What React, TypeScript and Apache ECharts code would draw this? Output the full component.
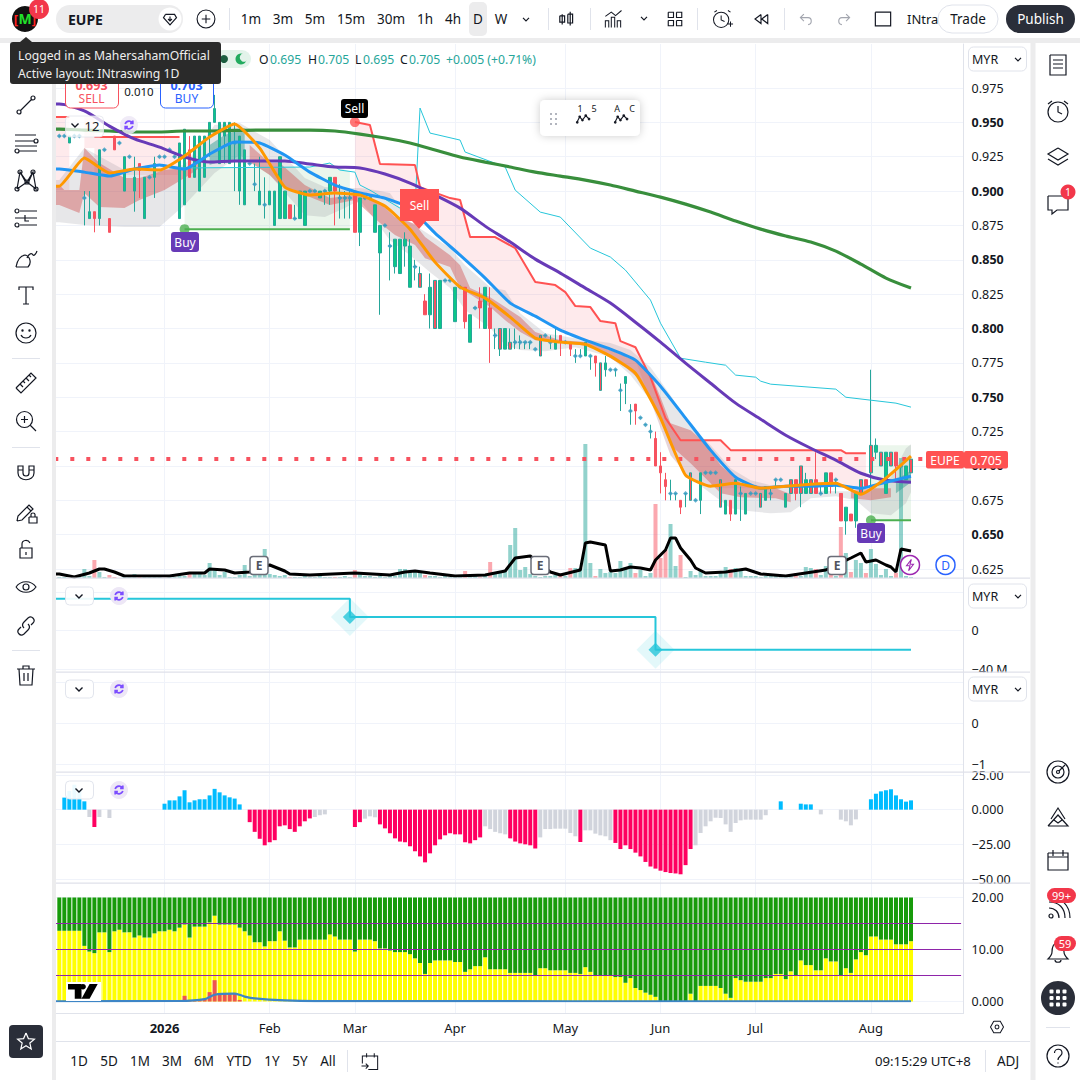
import React, { useEffect, useRef } from "react";
import * as echarts from "echarts";

// ---------- categories (slot 0 lies just off the pane's left edge, bar i sits in slot i + 1) ----------
const BAR_SLOTS = 182;
const monthTicks: Record<number, string> = { 21: "2026", 42: "Feb", 59: "Mar", 79: "Apr", 101: "May", 120: "Jun", 139: "Jul", 162: "Aug" };
const categories: string[] = Array.from({ length: BAR_SLOTS }, (_, i) => monthTicks[i - 1] ?? "");

// ---------- candles ----------
const opens = [.94,.94,.935,.94,.94,.895,.88,.885,.88,.93,.88,.94,.935,.9,.925,.9,.92,.88,.91,.91,.925,.925,.93,.925,.88,.89,.93,.91,.9,.91,.94,.95,.92,.94,.92,.935,.9,.89,.92,.905,.89,.89,.89,.875,.88,.88,.89,.88,.88,.875,.9,.9,.895,.9,.9,.91,.895,.895,.895,.9,.87,.895,.895,.87,.855,.875,.86,.845,.84,.86,.83,.845,.83,.82,.81,.8,.8,.835,.835,.805,.83,.83,.79,.815,.82,.8,.815,.795,.785,.785,.785,.79,.79,.79,.79,.785,.78,.795,.79,.785,.795,.79,.79,.78,.78,.78,.78,.78,.755,.77,.77,.77,.755,.76,.74,.745,.735,.73,.725,.72,.7,.69,.68,.68,.675,.68,.675,.675,.675,.695,.695,.695,.67,.665,.675,.665,.68,.665,.68,.68,.67,.675,.68,.69,.69,.67,.68,.69,.68,.68,.68,.69,.68,.68,.695,.69,.68,.66,.665,.66,.68,.69,.695,.71,.7,.68,.7,.71,.7,.69,.695];
const closes = [.94,.94,.94,.94,.94,.895,.885,.88,.93,.93,.87,.93,.935,.925,.925,.91,.915,.91,.91,.92,.925,.925,.93,.925,.935,.945,.91,.94,.94,.94,.95,.96,.95,.95,.95,.935,.94,.93,.92,.905,.9,.89,.9,.9,.925,.9,.88,.88,.9,.9,.9,.9,.9,.9,.91,.9,.895,.895,.895,.87,.895,.895,.895,.89,.875,.875,.86,.865,.865,.865,.86,.845,.84,.81,.83,.835,.835,.835,.835,.83,.83,.805,.81,.815,.815,.83,.8,.795,.8,.8,.79,.79,.79,.79,.79,.785,.795,.795,.79,.79,.79,.79,.785,.78,.78,.79,.78,.775,.775,.775,.77,.77,.755,.765,.74,.74,.735,.73,.725,.7,.695,.685,.68,.68,.67,.68,.695,.675,.695,.695,.695,.695,.69,.675,.665,.69,.68,.68,.68,.68,.68,.685,.68,.69,.69,.68,.69,.68,.7,.69,.69,.68,.68,.695,.685,.69,.66,.67,.66,.68,.69,.685,.715,.715,.71,.71,.71,.7,.7,.7,.705];
const highs = [.94,.94,.94,.94,.94,.9,.9,.885,.93,.93,.88,.94,.935,.925,.925,.925,.92,.91,.91,.925,.925,.925,.93,.925,.935,.945,.94,.94,.94,.94,.95,.97,.95,.95,.95,.95,.94,.93,.92,.92,.925,.91,.9,.9,.925,.9,.89,.89,.9,.9,.9,.9,.9,.9,.91,.91,.905,.9,.9,.9,.895,.895,.895,.89,.875,.875,.87,.865,.865,.87,.865,.85,.845,.825,.84,.835,.835,.835,.835,.83,.83,.83,.81,.815,.83,.83,.83,.8,.8,.8,.8,.8,.795,.79,.79,.785,.795,.795,.795,.8,.795,.79,.79,.785,.785,.79,.78,.78,.775,.78,.77,.77,.76,.765,.745,.745,.735,.73,.73,.725,.71,.695,.69,.68,.675,.68,.695,.675,.695,.695,.695,.695,.69,.675,.675,.69,.685,.68,.68,.68,.68,.685,.685,.69,.69,.68,.69,.69,.7,.695,.69,.71,.685,.695,.695,.69,.68,.67,.665,.68,.69,.69,.77,.72,.71,.71,.71,.71,.7,.7,.705];
const lows = [.94,.94,.935,.94,.94,.875,.88,.87,.875,.93,.87,.93,.935,.9,.925,.885,.895,.88,.91,.895,.925,.925,.93,.925,.88,.89,.91,.91,.9,.91,.925,.95,.92,.92,.92,.9,.89,.89,.92,.9,.89,.88,.89,.875,.88,.88,.88,.88,.88,.875,.9,.9,.895,.89,.89,.875,.88,.88,.88,.87,.86,.895,.895,.87,.81,.875,.835,.84,.84,.845,.83,.835,.83,.81,.8,.8,.8,.835,.835,.805,.83,.8,.79,.815,.8,.8,.775,.785,.78,.785,.785,.785,.785,.785,.785,.785,.78,.795,.785,.785,.78,.79,.78,.775,.78,.78,.77,.765,.755,.765,.77,.765,.74,.745,.73,.73,.735,.73,.72,.7,.68,.675,.675,.675,.665,.67,.675,.675,.665,.695,.695,.695,.67,.665,.66,.665,.66,.665,.68,.68,.67,.675,.675,.685,.69,.67,.68,.675,.67,.68,.68,.68,.68,.68,.68,.68,.66,.65,.66,.655,.68,.685,.685,.705,.7,.68,.7,.69,.69,.69,.695];
// Red bodies with a teal outline
const tealOutlined = [72,75,88,90,96,108,126,132,140,146,148,150,160,162,164,166,170];

const volumes = [1,1,0,1,1,9,2,18,6,1,3,1,0,1,1,4,1,1,1,1,1,0,1,1,2,2,5,6,5,3,15,10,3,6,1,1,3,13,2,3,3,29,4,3,2,3,1,1,1,2,1,1,2,1,1,1,1,2,1,8,4,2,2,1,2,1,2,2,9,9,6,6,6,3,2,2,1,2,1,1,2,7,3,2,1,3,16,5,5,8,33,50,8,11,4,2,1,2,2,3,5,2,10,10,10,134,15,2,9,5,6,5,17,11,15,5,8,2,5,74,20,28,54,12,23,1,7,3,8,2,2,2,6,11,9,10,7,2,2,2,1,2,3,2,1,2,3,5,2,11,10,9,3,12,3,2,51,25,6,18,15,5,29,14,3,9,2,5,120,2,1];
const volAvgIdx = [0,3,6,8,9,11,13,19,22,26,29,30,33,35,38,42,44,45,46,50,59,66,69,71,74,79,85,87,89,91,94,98,100,104,105,106,109,110,112,114,116,118,119,121,122,123,124,126,127,129,133,137,140,145,149,153,158,160,161,163,165,166,167,168,170];
const volAvgVal = [4,1,5,9,9,6,2,2,2,5,5,9,8,5,6,13,9,7,4,3,5,3,6,7,5,2,3,5,7,20,22,6,3,8,35,36,33,7,8,11,10,8,18,28,40,40,30,18,10,5,6,9,4,2,5,8,20,25,16,18,13,11,6,29,27];

// ---------- moving averages ----------
const sampleIdx = [0,5,10,15,20,25,30,35,40,45,50,55,60,65,70,75,80,85,90,95,100,105,110,115,120,125,130,135,140,145,150,155,160,165,170];
const orangeMA = [.9036,.924,.9131,.916,.9153,.9255,.9393,.9488,.9313,.9029,.8971,.8986,.8971,.8891,.8723,.8483,.8301,.8221,.8083,.793,.7901,.7886,.7799,.7675,.7348,.6933,.6853,.6874,.6838,.6853,.6867,.6874,.6794,.6911,.7071];
const blueMA = [.916,.9138,.9109,.916,.9189,.916,.9269,.9357,.935,.9262,.9138,.9044,.8986,.8949,.8876,.8694,.8534,.8367,.8185,.809,.7988,.7915,.785,.777,.758,.7348,.7115,.6918,.6838,.6853,.6853,.686,.6838,.6882,.6925];
const purpleMA = [.9633,.9583,.9473,.9379,.932,.9248,.9211,.9219,.9219,.9219,.9197,.9175,.9168,.9124,.9058,.8971,.8876,.8745,.8629,.8505,.8403,.8294,.8185,.8046,.7901,.7748,.7602,.7457,.734,.7224,.7129,.7042,.6947,.6896,.6882];
const greenMA = [.9451,.9444,.9437,.943,.943,.9437,.9437,.9441,.9444,.9444,.9444,.9437,.9415,.9386,.935,.9299,.9248,.9211,.9175,.9138,.9109,.908,.9044,.9,.8956,.8905,.8847,.8782,.8723,.8673,.8629,.8563,.8469,.8367,.8294];
const cyanIdx = [24,50,54,56,59,60,62,68,71,72,74,80,81,89,91,96,100,106,110,113,118,120,124,129,133,135,139,140,142,155,157,167,170];
const cyanVal = [.9168,.9175,.9204,.9153,.9138,.9044,.9007,.8876,.8884,.9604,.9422,.9371,.9284,.9175,.9007,.8847,.8811,.8585,.852,.8425,.8207,.8039,.7784,.7755,.7733,.7661,.7646,.7617,.7595,.7559,.75,.7457,.7428];

// ---------- stops and fills ----------
const stopAIdx = [0,2]; const stopAVal = [.9539,.9539];
const stopBIdx = [7,24]; const stopBVal = [.9393,.9393];
const stopCIdx = [59,62,64,71,72,78,80,82,87,91,95,99,101,103,106,108,111,112,115,118,121,124,132,134,156,157,161];
const stopCVal = [.9502,.9481,.9197,.9189,.9029,.8949,.8935,.8665,.8665,.8585,.8338,.8316,.8265,.8163,.8156,.8054,.8039,.7908,.7864,.7646,.7348,.7187,.7187,.7115,.7115,.7093,.7093];
const pinkLowIdx = [59,65,70,75,80,85,90,95,100,105,110,115,118,122,126,132,140,150,161];
const pinkLowVal = [.9007,.8949,.8876,.8694,.8534,.8367,.8185,.809,.7988,.7915,.785,.777,.7479,.7078,.6896,.6838,.6838,.6853,.6853];
const buyLineAIdx = [25,58]; const buyLineAVal = [.8723,.8723];
const buyLineBIdx = [162,170]; const buyLineBVal = [.6605,.6605];
const greenTopIdx = [25,50,54,58]; const greenTopVal = [.9168,.9175,.9204,.9138];
const darkAIdx = [0,1,4,5,8,13,16,21,25,28];
const darkATop = [.9044,.9007,.9007,.9313,.9204,.9095,.9095,.9153,.9168,.9211];
const darkABot = [.8898,.8884,.884,.8986,.8884,.8876,.8935,.9007,.9095,.9168];
const darkBIdx = [38,42,44,49,54,59,64,67,71,73,78,80,82,86,89,92,95,100,106,113,116,118,120,122,126,129,132,136,143,146];
const darkBTop = [.9335,.9204,.9204,.9044,.8949,.8971,.8913,.8811,.876,.8665,.8534,.8461,.8294,.8228,.8156,.8083,.7974,.7915,.7901,.7799,.7748,.7675,.75,.7311,.726,.7166,.7005,.6874,.6838,.6794];
const darkBBot = [.9211,.9117,.9044,.8971,.8898,.8935,.8767,.868,.8607,.8512,.8447,.8294,.825,.8156,.8061,.7974,.7915,.7894,.7872,.7719,.7624,.75,.7355,.7151,.702,.6911,.6802,.6772,.6765,.6736];
const darkCIdx = [158,162,166]; const darkCTop = [.6823,.6838,.6838]; const darkCBot = [.6765,.6751,.6772];
const greyIdx = [0,5,13,20,25,31,36,42,49,53,57,60,63,66,70,74,78,81,86,89,92,97,103,110,114,118,122,126,130,134,138,142,146,150,155,159,162,166,169,170];
const greyTop = [.908,.9313,.9153,.9168,.9189,.9481,.9495,.9371,.9095,.9029,.9022,.9022,.9007,.8986,.8774,.868,.8585,.8461,.8301,.8279,.8112,.7966,.793,.7894,.7843,.7719,.7515,.7282,.7151,.6984,.6896,.686,.686,.6823,.6816,.6816,.6816,.6918,.7129,.7158];
const greyBot = [.8774,.8753,.8738,.8738,.8898,.9131,.9262,.9117,.8825,.8811,.8876,.8935,.8789,.8643,.8534,.841,.8294,.8134,.8003,.7879,.7843,.7835,.7864,.7792,.7661,.7479,.7078,.6911,.6802,.6692,.667,.6656,.6663,.6765,.678,.6751,.6656,.6642,.6729,.6809];
const tealAIdx = [30,33,37]; const tealATop = [.9335,.9408,.9459]; const tealABot = [.9189,.9226,.9226];
const tealBIdx = [167,170]; const tealBTop = [.6896,.6969]; const tealBBot = [.6802,.6882];
const lastPrice = 0.705;
const buySignalIdx = [25,162]; const buySignalVal = [.8723,.6605];
const sellSignalIdx = [59]; const sellSignalVal = [.9502];

// ---------- second pane ----------
const stepIdx = [0,58,119,170]; const stepVal = [33,14,-20,-20];
const stepMarkIdx = [58,119]; const stepMarkVal = [14,-20];

// ---------- histogram pane ----------
const histogram = [0,8.7,13.5,18,14,6,-5.3,-12.5,-5.3,0,-6,0,0,0,0,0,0,0,0,0,0,4.3,6.7,6.7,9.6,14,5.3,6.7,7.5,7.5,10.3,15,12.5,10.3,8.9,8,3.8,0,-9,-16,-21,-25.7,-23.5,-22,-12,-11.3,-14,-16,-12,-8.4,-6.3,-5.3,-4,-3.4,0,0,0,0,0,-12.5,-9,-6.5,-4.8,-5.5,-10.6,-13.5,-17,-20.7,-23,-23.5,-26.4,-30,-33.7,-38,-31.5,-25.7,-21.4,-18.5,-17,-17.8,-17.8,-23.5,-24.3,-22,-20,-12,-14,-16,-17,-17.8,-20.7,-23,-24.3,-25,-25.7,-28,-20,-14,-14,-13.7,-13.7,-13.7,-16.8,-19.2,-23.3,-14.9,-14.9,-17.3,-18.5,-19.2,-22,-24,-28.4,-25.7,-28.4,-31,-33.7,-37.7,-41,-42.5,-44,-45,-45.7,-46,-46.6,-40,-28.4,-25.7,-16.8,-12,-8.4,-5.8,-6,-10.6,-16,-9.6,-7.7,-7.2,-7.2,-7.2,-7.2,-4,0,0,6,0,0,0,4.3,3.8,3.8,0,-3.4,0,0,0,-7.2,-8.4,-11.3,-7,0,0,7.5,11.5,13.2,14,14.7,10.3,7.5,5.8,6.7];
const histGreyIdx = [6,8,10,51,52,53,61,62,63,85,86,87,88,89,96,97,98,99,100,101,102,103,105,106,107,108,109,110,127,128,129,130,131,132,133,134,135,136,137,138,139,140,141,152,156,157,158,159];

// ---------- stacked pane ----------
const stackTop = 20;
const yellowBars = [13.6,13.6,13.6,13.6,13.6,10.7,9.6,9.3,13.3,13.3,9.5,13.5,13.8,13.3,13.3,12.3,12.7,12.3,12.3,13.1,13.5,13.5,13.8,13.5,14.2,14.8,12.3,14.4,14.4,14.4,15.2,16.5,14.8,14.8,14.8,14.8,14.2,13.5,12.7,11.4,11.4,10.6,11.6,11.6,13.5,11.7,10.4,10.4,11.9,11.9,11.9,11.9,11.9,11.9,12.9,12.5,11.9,11.9,11.9,9.6,11.9,11.9,11.9,11.6,10.2,10.2,9.8,9.5,9.5,9.5,9.1,8.3,7.4,5.3,7.4,7.9,7.9,7.9,7.9,7.6,7.6,5.7,6.2,6.8,6.8,8.5,6.2,6.2,6.2,6.2,5.5,5.5,5.5,5.5,5.5,5.1,6.4,6.4,6,6,6,6,5.5,5.5,5.3,6.6,5.7,5.1,5.1,5.1,5.1,4.7,4.7,3.6,4.5,2.6,2.2,1.7,1.3,.9,0,0,0,0,0,0,1.5,0,3,3,3,3,2.6,1.5,.7,4.5,4.1,3.8,3.8,3.8,3.8,4.5,4.5,5.3,5.3,4.3,5.8,4.9,7.9,7,7,6,6,8.3,7.7,7.7,5.1,6.4,5.5,8.1,9.5,8.9,12.5,12.5,11.9,11.9,11.9,11,11,11,11.6];
const redBarIdx = [25,26,27,28,29,30,31,32,33,34,35,36];
const redBarVal = [1.1,.3,.3,.3,.5,1.8,4.1,1.65,1.65,1.65,1.65,.3];
const pane5LineIdx = [0,24,29,31,35,37,39,45,51,170];
const pane5LineVal = [.05,.1,.45,1.3,1.5,.95,.6,.2,.06,.05];
const purpleLevels = [5,10,15];

// ---------- chart texts ----------
const intervals: [string, number][] = [["1m",251],["3m",283],["5m",315],["15m",351],["30m",391],["1h",425],["4h",453],["D",478],["W",501]];
const ranges: [string, number][] = [["1D",79],["5D",109],["1M",140],["3M",172],["6M",204],["YTD",239],["1Y",272],["5Y",300],["All",328]];

// ---------- drawing helpers ----------
const F = '"Noto Sans"';
const INK = "#131722";
const UP = "#0bc887", TEAL = "#26a69a", RED = "#f7525f", GRID = "#f0f3fa", SEP = "#e0e3eb";
// Bar i goes to slot i + 1; a series that starts at bar 0 also runs on into the off-edge slot 0.
const pairs = (idx: number[], vals: number[]) => {
  const p = idx.map((x, k) => [x + 1, vals[k]]);
  if (idx[0] === 0) p.unshift([0, vals[0]]);
  return p;
};
const ring = (x: number, y: number, r: number) => `M${x + r} ${y}a${r} ${r} 0 1 1 ${-2 * r} 0a${r} ${r} 0 1 1 ${2 * r} 0`;

const ICONS: Record<string, string> = {
  line: `M6.5 17.5L17.5 6.5${ring(5, 19, 2)}${ring(19, 5, 2)}`,
  fib: `M1 4H22M1 10H20M1 15H23M5 20H23${ring(22, 10, 2)}${ring(3, 20, 2)}`,
  pat: `M3 21L6 4L13 14L19 4L22 21L13 14L3 21M6 4L11 13M19 4L15 13${ring(3, 21, 2)}${ring(6, 4, 2)}${ring(13, 14, 2)}${ring(19, 4, 2)}${ring(22, 21, 2)}`,
  fc: `M6 5H23M1 12H23M6 19H23M11 9V15H15${ring(3, 5, 2)}${ring(3, 19, 2)}`,
  brush: `M2 21H14C18 17 16 10 11 9C6 10 3 15 2 21M13 12C15 7 18 7 19 9C20 10 22 8 23 5`,
  T: `M5 7V4H19V7M12 4V21M9 21H15`,
  smile: `${ring(12, 12, 10)}${ring(8.5, 9.5, .6)}${ring(15.5, 9.5, .6)}M7 14C9 18 15 18 17 14`,
  ruler: `M2 17L17 2L22 7L7 22L2 17M6 13L9 16M9 10L11 12M12 7L15 10M15 4L17 6`,
  zoom: `${ring(10.5, 10.5, 8)}M16.5 16.5L22 22M10.5 7V14M7 10.5H14`,
  magnet: `M4 12V5H9V12C9 16 15 16 15 12V5H20V12C20 21 4 21 4 12M4 9H9M15 9H20`,
  pencil: `M3 21L4 16L15 5L19 9L8 20L3 21M13 7L17 11M15 17H23V23H15V17M17 17V14.5C17 12.5 21 12.5 21 14.5V17`,
  lock: `M6 11H18V21H6V11M8 11V7C8 3 14 2 16 6M12 15V18`,
  eye: `M2 12C7 5 17 5 22 12C17 19 7 19 2 12${ring(12, 12, 3)}`,
  link: `M10 14C8 12 8 10 10 8L14 4C18 1 22 6 19 9L17 11M14 10C16 12 16 14 14 16L10 20C6 23 2 18 5 15L7 13`,
  trash: `M3 6H21M9 6V3H15V6M5 6L6 22H18L19 6M10 10V18M14 10V18`,
  star: `M12 2L15 9L22.5 9.7L16.8 14.6L18.5 22L12 18L5.5 22L7.2 14.6L1.5 9.7L9 9L12 2`,
  plus: `${ring(12, 12, 10.5)}M12 7V17M7 12H17`,
  gem: `M5 5H19L22 10L12 21L2 10L5 5M12 8V14M9 12L12 15L15 12`,
  candle: `M6 6V19M3 8H9V16H3V8M16 3V20M13 6H19V17H13V6`,
  ind: `M3 22V14H7V22M10 22V10H14V22M17 22V14H21V22M3 9L10 4L15 8L22 2`,
  grid4: `M3 3H10V10H3V3M14 3H21V10H14V3M3 14H10V21H3V14M14 14H21V21H14V14`,
  alert: `${ring(11, 13, 9)}M11 8V13L15 15M3 4L6 2M19 2L22 4M19 18H25M22 15V21`,
  replay: `M12 6L4 12L12 18V6M21 6L13 12L21 18V6`,
  undo: `M9 5L4 10L9 15M4 10H15C21 10 21 20 15 20`,
  redo: `M15 5L20 10L15 15M20 10H9C3 10 3 20 9 20`,
  rect: `M3 4H21V20H3V4`,
  note: `M4 2H20V22H4V2M7 7H17M7 11H17M7 15H17`,
  clock: `${ring(12, 13, 10)}M12 7V13L16 15M2 5L6 2M18 2L22 5`,
  layers: `M12 3L22 9L12 15L2 9L12 3M2 14L12 20L22 14`,
  chat: `M2 4H22V18H11L6 22V18H2V4`,
  radar: `${ring(12, 12, 11)}${ring(12, 12, 6)}${ring(12, 12, 1.5)}M13 11L19 5`,
  mount: `M2 21L12 10L22 21H2M5 14L12 3L19 14M8 15L12 18L16 15`,
  cal: `M2 5H22V22H2V5M7 2V8M17 2V8M2 9H22`,
  feed: `${ring(5, 20, 2)}M3 12C9 12 13 16 13 22M3 6C13 6 19 12 19 22M3 1C15 1 24 9 24 22`,
  bell: `M12 3C7 3 6 8 6 12C6 15 4 17 2 19H22C20 17 18 15 18 12C18 8 17 3 12 3M9 20C9 23 15 23 15 20`,
  help: `${ring(12, 12, 11)}M8.5 9C8.5 4 16 4 16 9C16 12 12 12 12 16M12 18.5V19.5`,
  hex: `M7 3H17L22 12L17 21H7L2 12L7 3${ring(12, 12, 3)}`,
  calarrow: `M5 6H21V22H10M3 15V6H21M8 3V8M17 3V8M2 18H10M7 15L10 18L7 21`,
  chev: `M7 10L12 15L17 10`,
  sync: `M5 10C7 4 16 3 19 9M19 4V9H14M19 14C17 20 8 21 5 15M5 20V15H10`,
  wave: `M1 18L6 8L11 14L17 6L23 12${ring(1.5, 18, 1.5)}${ring(6, 8, 1.5)}${ring(11, 14, 1.5)}${ring(17, 6, 1.5)}${ring(23, 12, 1.5)}`,
  bolt: `M14 4L7 13H12L10 20L17 11H12L14 4`,
  tv: `M0 0H10V11H5V4H0V0M11 0C14 0 14 4 11 4C9 4 9 0 11 0M16 0H22L16 11H10L16 0`,
};
Object.entries(ICONS).forEach(([n, d]) => {
  echarts.graphic.registerShape("ic_" + n, echarts.graphic.extendPath(d, {}));
});

const Z = 100;
const icon = (n: string, cx: number, cy: number, o: any = {}) => {
  const s = o.s ?? 1;
  return { type: "ic_" + n, x: cx - 12 * s, y: cy - 12 * s, scaleX: s, scaleY: s, z: o.z ?? Z, silent: true,
    style: { fill: o.fill ?? "none", stroke: o.stroke ?? INK, lineWidth: o.lw ?? 1.2 } };
};
const txt = (text: string, x: number, y: number, o: any = {}) => ({ type: "text", x, y, z: o.z ?? Z, silent: true,
  style: { text, fill: o.fill ?? INK, font: `${o.w ?? "normal"} ${o.size ?? 13.5}px ${F}`, textAlign: o.align ?? "center", textVerticalAlign: "middle" } });
const box = (x: number, y: number, w: number, h: number, o: any = {}) => ({ type: "rect", z: o.z ?? Z, silent: true,
  shape: { x, y, width: w, height: h, r: o.r ?? 0 },
  style: { fill: o.fill ?? "#fff", stroke: o.stroke, lineWidth: o.lw ?? 1, opacity: o.op ?? 1, shadowBlur: o.blur ?? 0, shadowColor: "rgba(0,0,0,.2)" } });
const dot = (cx: number, cy: number, r: number, o: any = {}) => ({ type: "circle", z: o.z ?? Z, silent: true,
  shape: { cx, cy, r }, style: { fill: o.fill ?? "#fff", stroke: o.stroke, lineWidth: o.lw ?? 1, opacity: o.op ?? 1 } });

const myrButton = (y: number) => [
  box(968.5, y, 58, 24, { r: 5, stroke: SEP }),
  txt("MYR", 972, y + 12, { align: "left", size: 12.5 }),
  icon("chev", 1018, y + 12, { s: .6, lw: 2 }),
];
const paneToggle = (y: number) => [
  box(65.5, y - 9, 28, 18, { r: 4, stroke: SEP, op: .92 }),
  icon("chev", 79, y, { s: .7, lw: 2 }),
  dot(119, y, 9, { fill: "#ede7f6" }),
  icon("sync", 119, y, { s: .55, stroke: "#7c4dff", lw: 3 }),
];
const eBadge = (x: number) => [
  box(x - 9, 556.5, 18, 18, { r: 3, stroke: "#6a6d78", lw: 1.5 }),
  txt("E", x, 565.5, { size: 12, w: "bold", fill: "#50535e" }),
];
const leftIcons: [string, number][] = [["line",105],["fib",143],["pat",180],["fc",218],["brush",258],["T",295],["smile",333],["ruler",383],["zoom",421],["magnet",473],["pencil",512],["lock",549],["eye",587],["link",626],["trash",675]];
const rightIcons: [string, number][] = [["note",65],["clock",111],["layers",157],["chat",204],["radar",772],["mount",817],["cal",860],["feed",908],["bell",952]];

function buildGraphics() {
  const g: any[] = [];
  // chrome bands
  g.push(box(0, 38, 1080, 5, { fill: "#ececed" }));
  g.push(box(0, 43, 56, 1037, { fill: "#fff" }));
  g.push(box(52, 38, 4, 1042, { fill: "#ececed" }));
  g.push(box(1030.5, 38, 5, 1042, { fill: "#ececed" }));
  g.push(box(966, 672.5, 62, 4));
  [578, 672, 772, 883].forEach((y) => g.push(box(56, y - .5, 974, 1.2, { fill: "#dfe1ea" })));
  g.push(box(56, 1041, 974, 1, { fill: SEP }));
  g.push(box(985, 1050, 1, 22, { fill: SEP }));
  g.push(box(347, 1050, 1, 22, { fill: SEP }));
  [358, 447, 650].forEach((y) => g.push(box(12, y, 28, 1, { fill: SEP })));
  g.push(box(1046, 1027, 24, 1, { fill: SEP }));
  g.push(box(229, 8, 1, 22, { fill: SEP }), box(548, 8, 1, 22, { fill: SEP }), box(590, 8, 1, 22, { fill: SEP }), box(697, 8, 1, 22, { fill: SEP }), box(784, 8, 1, 22, { fill: SEP }));

  // top bar
  g.push(dot(25, 19, 13, { fill: "#111" }));
  g.push(txt("[", 16, 19, { fill: "#f22", w: "bold", size: 13 }), txt("]", 34, 19, { fill: "#f22", w: "bold", size: 13 }));
  g.push(txt("M", 25, 18, { fill: "#22e02a", w: "bold", size: 14 }));
  g.push(dot(39, 9, 10, { fill: "#f2374a" }), txt("11", 39, 9, { fill: "#fff", size: 10.5 }));
  g.push(box(56, 5, 127, 28, { r: 14, fill: "#ececed" }));
  g.push(txt("EUPE", 68, 19, { align: "left", w: "bold", size: 14 }));
  g.push(dot(170, 19, 11.5, { fill: "#fff" }), icon("gem", 170, 19, { s: .65, lw: 1.8 }));
  g.push(icon("plus", 206, 19, { s: .85, lw: 1.3 }));
  g.push(box(469, 2, 18, 34, { r: 5, fill: "#ececed" }));
  intervals.forEach(([t, x]) => g.push(txt(t, x, 19, { size: 13.5 })));
  g.push(icon("chev", 526, 19, { s: .6, lw: 2 }));
  g.push(icon("candle", 567, 19, { s: .8, lw: 1.5 }), icon("ind", 613, 19, { s: .85 }), icon("chev", 644, 18, { s: .6, lw: 2 }), icon("grid4", 675, 19, { s: .75, lw: 1.5 }));
  g.push(icon("alert", 722, 19, { s: .85 }), icon("replay", 761, 19, { s: .75, lw: 1.5 }));
  g.push(icon("undo", 806, 19, { s: .7, stroke: "#a3a6af", lw: 1.6 }), icon("redo", 844, 19, { s: .7, stroke: "#a3a6af", lw: 1.6 }), icon("rect", 883, 19, { s: .85, lw: 1.4 }));
  g.push(txt("INtra", 907, 19, { align: "left", size: 13 }));
  g.push(box(938, 5, 60, 28, { r: 14, stroke: SEP }), txt("Trade", 968, 19, { size: 13.5 }));
  g.push(box(1006, 5, 69, 28, { r: 14, fill: "#2a2e39" }), txt("Publish", 1040.5, 19, { fill: "#fff", size: 13.5 }));

  // legend
  g.push(box(214, 50, 37, 18, { r: 9, fill: "#e3f3ea" }), dot(224, 59, 4, { fill: "#1b5e3f" }));
  g.push(dot(241, 59, 5.5, { fill: "#22ab5f" }), dot(244, 57.5, 4.2, { fill: "#e3f3ea" }));
  ([["O",259,"0.695",270],["H",308,"0.705",318],["L",355,"0.695",363],["C",400,"0.705",409]] as [string,number,string,number][]).forEach(([l, x, v, vx]) => {
    g.push(txt(l, x, 59, { align: "left", size: 12.2 }), txt(v, vx, 59, { align: "left", size: 12.2, fill: TEAL }));
  });
  g.push(txt("+0.005 (+0.71%)", 446, 59, { align: "left", size: 12.2, fill: TEAL }));

  // buy/sell boxes
  g.push(box(65.5, 76, 53, 32, { r: 5, stroke: "#f7525f", lw: 1 }), txt("0.693", 91.5, 85, { fill: RED, w: "bold", size: 12.5 }), txt("SELL", 91.5, 98, { fill: RED, size: 12 }));
  g.push(box(160.5, 76, 53, 32, { r: 5, stroke: "#2962ff", lw: 1 }), txt("0.703", 186.5, 85, { fill: "#2962ff", w: "bold", size: 12.5 }), txt("BUY", 186.5, 98, { fill: "#2962ff", size: 12 }));
  g.push(txt("0.010", 139, 91, { size: 11.5 }));
  g.push(box(65.5, 116, 38, 21, { r: 4, stroke: SEP, op: .75 }), icon("chev", 75, 125, { s: .7, lw: 2 }), txt("12", 92, 126, { size: 13 }));
  g.push(dot(129, 125, 9, { fill: "#ede7f6", op: .85 }), icon("sync", 129, 125, { s: .55, stroke: "#7c4dff", lw: 3 }));
  paneToggle(596).forEach((e) => g.push(e));
  paneToggle(689).forEach((e) => g.push(e));
  paneToggle(790).forEach((e) => g.push(e));

  // floating drawing tools
  g.push(box(540, 100, 100, 36, { r: 5, blur: 8 }));
  [113, 118, 123].forEach((y) => [550, 555].forEach((x) => g.push(box(x, y, 2, 2, { fill: "#b2b5be" }))));
  g.push(icon("wave", 583, 119, { s: .55, stroke: INK, lw: 2 }), icon("wave", 621, 119, { s: .55, stroke: INK, lw: 2 }));
  g.push(txt("1", 580, 108, { size: 9 }), txt("5", 594, 108, { size: 9 }), txt("A", 617, 108, { size: 9 }), txt("C", 632, 108, { size: 9 }));

  // signal labels
  g.push(box(341, 99, 27, 19, { r: 3, fill: "#000" }), txt("Sell", 354.5, 108.5, { fill: "#fff", size: 12 }));
  g.push({ type: "polygon", z: Z, silent: true, shape: { points: [[400, 189], [439, 189], [439, 221], [426, 221], [419, 229], [412, 221], [400, 221]] }, style: { fill: "#ff5252" } });
  g.push(txt("Sell", 419.5, 205, { fill: "#fff", size: 12 }));
  g.push(box(171, 232, 28, 20, { r: 3, fill: "#673ab7" }), txt("Buy", 185, 242, { fill: "#fff", size: 12 }));
  g.push(box(857, 523, 28, 20, { r: 3, fill: "#673ab7" }), txt("Buy", 871, 533, { fill: "#fff", size: 12 }));

  // last price tag
  g.push(box(926, 451, 38, 17.5, { r: 2, fill: "#ff5252" }), txt("EUPE", 945, 460, { fill: "#fff", size: 12 }));
  g.push(box(964, 451, 44, 17.5, { r: 2, fill: "#ff5252" }), txt("0.705", 986, 460, { fill: "#fff", size: 12.5 }));

  // markers
  [259, 540, 837].forEach((x) => eBadge(x).forEach((e) => g.push(e)));
  g.push(dot(910, 565, 9.5, { stroke: "#9c27b0", lw: 1.5 }), icon("bolt", 910, 565, { s: .7, stroke: "#9c27b0", lw: 1.5 }));
  g.push(dot(945.5, 565, 9.5, { stroke: "#2962ff", lw: 1.5 }), txt("D", 945.5, 565.5, { fill: "#2962ff", size: 12 }));

  // scale buttons
  [47, 584, 677].forEach((y) => myrButton(y).forEach((e) => g.push(e)));

  // TV logo
  g.push(box(66, 982, 35, 19, { fill: "#fff" }), icon("tv", 83, 991, { s: 1.35, fill: "#000", stroke: "none", lw: 0 }));
  const last = g[g.length - 1];
  last.x = 68; last.y = 984;

  // left toolbar
  leftIcons.forEach(([n, y]) => g.push(icon(n, 26, y)));
  g.push(box(9, 1025, 34, 33, { r: 4, fill: "#2a2e39" }), icon("star", 26, 1041, { s: .8, stroke: "#fff", lw: 1.5 }));

  // right toolbar
  rightIcons.forEach(([n, y]) => g.push(icon(n, 1058, y)));
  g.push(dot(1068, 192, 7.5, { fill: "#f2374a" }), txt("1", 1068, 192, { fill: "#fff", size: 10.5 }));
  g.push(box(1047, 888, 29, 15, { r: 7.5, fill: "#f2374a" }), txt("99+", 1061.5, 895.5, { fill: "#fff", size: 11 }));
  g.push(box(1054, 936, 22, 15, { r: 7.5, fill: "#f2374a" }), txt("59", 1065, 943, { fill: "#fff", size: 11 }));
  g.push(dot(1058, 998, 17, { fill: "#2a2e39" }));
  [-6.5, 0, 6.5].forEach((dy) => [-6.5, 0, 6.5].forEach((dx) => g.push(box(1058 + dx - 2, 998 + dy - 2, 4, 4, { r: 1, fill: "#fff" }))));
  g.push(icon("help", 1058, 1056));

  // bottom bar
  ranges.forEach(([t, x]) => g.push(txt(t, x, 1061, { size: 13.5 })));
  g.push(icon("calarrow", 370, 1061, { s: .85 }));
  g.push(txt("09:15:29 UTC+8", 875, 1061, { align: "left", size: 13.2 }));
  g.push(txt("ADJ", 1008, 1061, { size: 13.5 }));
  g.push(icon("hex", 997, 1027, { s: .65, lw: 1.6 }));

  // tooltip, on top of all
  g.push({ type: "polygon", z: Z + 1, silent: true, shape: { points: [[20, 42], [26, 37], [32, 42]] }, style: { fill: "#2a2a2a" } });
  g.push(box(10, 42, 211, 42, { r: 3, fill: "#2a2a2a", z: Z + 1 }));
  g.push(txt("Logged in as MahersahamOfficial", 18, 55, { align: "left", fill: "#eee", size: 12.2, z: Z + 1 }));
  g.push(txt("Active layout: INtraswing 1D", 18, 73, { align: "left", fill: "#eee", size: 12.2, z: Z + 1 }));
  return g;
}

const band = (upIdx: number[], upVal: number[], loIdx: number[], loVal: number[], fill: string, z = 1) => ({
  type: "custom", xAxisIndex: 1, yAxisIndex: 1, z, silent: true, data: [[upIdx[0] + 1, upVal[0]]],
  renderItem: (_: any, api: any) => ({
    type: "polygon",
    shape: { points: [...pairs(upIdx, upVal).map((p) => api.coord(p)), ...pairs(loIdx, loVal).map((p) => api.coord(p)).reverse()] },
    style: { fill },
  }),
});
const line = (data: number[][], color: string, width: number, o: any = {}) => ({
  type: "line", xAxisIndex: o.ax ?? 1, yAxisIndex: o.ax ?? 1, data, showSymbol: false, symbol: "none", silent: true,
  smooth: o.smooth ?? false, step: o.step ?? false, z: o.z ?? 4, lineStyle: { color, width, type: o.type ?? "solid" },
});

const LEFT = 51.8, WIDTH = 911.8;
const gridAt = (top: number, bottom: number) => ({ left: LEFT, width: WIDTH, top, height: bottom - top });
const hiddenX = (gridIndex: number) => ({ type: "category", gridIndex, data: categories, show: false });
const labelBase = { color: INK, fontFamily: F, fontSize: 12.5, margin: 8, align: "left" as const };
const yAxis = (gridIndex: number, min: number, max: number, interval: number, fmt: (v: number) => string) => ({
  type: "value", gridIndex, position: "right", min, max, interval, scale: false,
  axisLine: { show: false }, axisTick: { show: false },
  splitLine: { show: true, lineStyle: { color: GRID, width: 1 } },
  axisLabel: { ...labelBase, formatter: fmt, showMinLabel: true, showMaxLabel: true },
});
const num = (v: number) => (Math.abs(v) < 1e-9 ? "0.000" : (v < 0 ? "\u2212" : "") + Math.abs(v).toFixed(2));
const priceLabel = (v: number) => {
  if (v < 0.61 || v > 0.99) return "";
  const s = v.toFixed(3);
  return Math.round(v * 1000) % 50 === 0 ? `{b|${s}}` : s;
};

function buildOption() {
  const bars: any[] = opens.map((o, i) => {
    const value = [o, closes[i], lows[i], highs[i]];
    return tealOutlined.includes(i) ? { value, itemStyle: { color: RED, borderColor: TEAL } } : { value };
  });
  const dojiIdx = opens.map((_, i) => i).filter((i) => opens[i] === closes[i]);
  const doji = pairs(dojiIdx.filter((i) => i > 0), dojiIdx.filter((i) => i > 0).map((i) => opens[i]));
  doji.push([1, opens[0]]);
  return {
    animation: false,
    backgroundColor: "#fff",
    textStyle: { fontFamily: F },
    grid: [gridAt(44, 1013), gridAt(53.64, 603.4), gridAt(444, 578), gridAt(592, 669), gridAt(682, 764), gridAt(775, 879), gridAt(897.5, 1001.5)],
    xAxis: [
      { type: "category", gridIndex: 0, data: categories, axisTick: { show: false },
        axisLine: { show: true, lineStyle: { color: SEP } },
        splitLine: { show: true, alignWithLabel: true, interval: (_: number, v: string) => v !== "", lineStyle: { color: GRID } },
        axisLabel: { interval: 0, hideOverlap: false, color: INK, fontFamily: F, fontSize: 13, margin: 8,
          formatter: (v: string) => (v === "2026" ? "{b|2026}" : v), rich: { b: { fontWeight: "bold", fontFamily: F, fontSize: 13, color: INK } } } },
      hiddenX(1), hiddenX(2), hiddenX(3), hiddenX(4), hiddenX(5), hiddenX(6),
    ],
    yAxis: [
      { type: "value", gridIndex: 0, position: "right", min: 0, max: 1, axisLabel: { show: false }, axisTick: { show: false }, splitLine: { show: false }, axisLine: { show: true, lineStyle: { color: SEP } } },
      { ...yAxis(1, 0.6, 1, 0.025, priceLabel),
        splitLine: { show: true, showMinLine: false, showMaxLine: false, lineStyle: { color: GRID } },
        axisLabel: { ...labelBase, formatter: priceLabel, rich: { b: { fontWeight: "bold", fontFamily: F, fontSize: 12.5, color: INK } } } },
      { type: "value", gridIndex: 2, min: 0, max: 134, show: false },
      yAxis(3, -40, 40, 40, (v: number) => (v === 0 ? "0" : v === -40 ? "\u221240 M" : "")),
      yAxis(4, -1, 1, 1, (v: number) => (v === 0 ? "0" : v === -1 ? "\u22121" : "")),
      yAxis(5, -50, 25, 25, num),
      yAxis(6, 0, 20, 10, num),
    ],
    series: [
      // fills in the price pane
      band([0, 2], stopAVal, [0, 2], [.9007, .9007], "rgba(247,82,95,.12)"),
      band([5, 7], [.9539, .9539], [5, 7], [.9313, .9313], "rgba(247,82,95,.12)"),
      band(stopBIdx, stopBVal, stopBIdx, [.9117, .9117], "rgba(247,82,95,.12)"),
      band(stopCIdx, stopCVal, pinkLowIdx, pinkLowVal, "rgba(247,82,95,.12)"),
      band(greenTopIdx, greenTopVal, buyLineAIdx, buyLineAVal, "rgba(76,175,80,.11)"),
      band([162, 170], [.7151, .7151], buyLineBIdx, buyLineBVal, "rgba(76,175,80,.11)"),
      band(greyIdx, greyTop, greyIdx, greyBot, "rgba(120,123,134,.18)"),
      band(darkAIdx, darkATop, darkAIdx, darkABot, "rgba(205,60,60,.38)"),
      band(darkBIdx, darkBTop, darkBIdx, darkBBot, "rgba(205,60,60,.38)"),
      band(darkCIdx, darkCTop, darkCIdx, darkCBot, "rgba(205,60,60,.38)"),
      band(tealAIdx, tealATop, tealAIdx, tealABot, "rgba(0,137,123,.38)"),
      band(tealBIdx, tealBTop, tealBIdx, tealBBot, "rgba(0,137,123,.38)"),
      // volume
      { type: "bar", xAxisIndex: 2, yAxisIndex: 2, z: 2, barWidth: 4, silent: true,
        data: [null, ...volumes.map((v, i) => ({ value: v, itemStyle: { color: closes[i] < opens[i] ? "rgba(247,82,95,.5)" : "rgba(38,166,154,.5)" } }))] },
      // candles
      { type: "candlestick", xAxisIndex: 1, yAxisIndex: 1, z: 3, barWidth: 3, silent: true, data: ["-", ...bars],
        itemStyle: { color: UP, color0: RED, borderColor: TEAL, borderColor0: RED, borderColorDoji: TEAL, borderWidth: 1 } },
      { type: "scatter", xAxisIndex: 1, yAxisIndex: 1, z: 3, symbol: "diamond", symbolSize: 5, silent: true, data: doji, itemStyle: { color: "#3b9cc4" } },
      // lines
      line(pairs(cyanIdx, cyanVal), "#26c6da", 1),
      line(pairs(stopAIdx, stopAVal), "#ff5252", 2),
      line(pairs(stopBIdx, stopBVal), "#ff5252", 2),
      line(pairs(stopCIdx, stopCVal), "#ff5252", 2),
      line(pairs(buyLineAIdx, buyLineAVal), "#4caf50", 2),
      line(pairs(buyLineBIdx, buyLineBVal), "#4caf50", 2),
      line(pairs(sampleIdx, greenMA), "#388e3c", 3.2, { smooth: .25 }),
      line(pairs(sampleIdx, purpleMA), "#673ab7", 3, { smooth: .25 }),
      line(pairs(sampleIdx, blueMA), "#2196f3", 3, { smooth: .15, z: 5 }),
      line(pairs(sampleIdx, orangeMA), "#ff9800", 3, { smooth: .15, z: 5 }),
      line(pairs([0, 173], [lastPrice, lastPrice]), "#f7525f", 4, { type: [4, 12], z: 4 }),
      { type: "scatter", xAxisIndex: 1, yAxisIndex: 1, z: 6, symbolSize: 10, silent: true, data: pairs(buySignalIdx, buySignalVal), itemStyle: { color: "#4caf50" } },
      { type: "scatter", xAxisIndex: 1, yAxisIndex: 1, z: 6, symbolSize: 10, silent: true, data: pairs(sellSignalIdx, sellSignalVal), itemStyle: { color: "#ff5252" } },
      line(pairs(volAvgIdx, volAvgVal), "#000", 3, { ax: 2, z: 6 }),
      // second pane
      line(pairs(stepIdx, stepVal), "#26c6da", 2, { ax: 3, step: "end" }),
      { type: "scatter", xAxisIndex: 3, yAxisIndex: 3, z: 3, symbol: "diamond", symbolSize: 38, silent: true, data: pairs(stepMarkIdx, stepMarkVal), itemStyle: { color: "rgba(38,198,218,.16)" } },
      { type: "scatter", xAxisIndex: 3, yAxisIndex: 3, z: 5, symbol: "diamond", symbolSize: 14, silent: true, data: pairs(stepMarkIdx, stepMarkVal), itemStyle: { color: "#26c6da" } },
      // histogram
      { type: "bar", xAxisIndex: 5, yAxisIndex: 5, barWidth: 4, silent: true,
        data: [null, ...histogram.map((v, i) => ({ value: v, itemStyle: { color: v > 0 ? "#00bcff" : histGreyIdx.includes(i) ? "#d1d4dc" : "#ff0060" } }))] },
      // stacked pane
      { type: "bar", xAxisIndex: 6, yAxisIndex: 6, stack: "s", barWidth: 4, barGap: "-100%", silent: true, data: [null, ...yellowBars], itemStyle: { color: "#ffff00" } },
      { type: "bar", xAxisIndex: 6, yAxisIndex: 6, stack: "s", barWidth: 4, barGap: "-100%", silent: true, data: [null, ...yellowBars.map((v) => stackTop - v)], itemStyle: { color: "#179b0a" } },
      { type: "bar", xAxisIndex: 6, yAxisIndex: 6, barWidth: 4, barGap: "-100%", z: 3, silent: true, data: pairs(redBarIdx, redBarVal), itemStyle: { color: "#ef5350" } },
      ...purpleLevels.map((lv) => line(pairs([0, 180], [lv, lv]), "#8e24aa", 1, { ax: 6, z: 5 })),
      line(pairs(pane5LineIdx, pane5LineVal), "#3d85c6", 2.2, { ax: 6, z: 6, smooth: .3 }),
    ],
    graphic: { elements: buildGraphics() },
  };
}

export default function App() {
  const ref = useRef<HTMLDivElement>(null);
  useEffect(() => {
    document.body.style.margin = "0";
    const chart = echarts.init(ref.current!, null, { renderer: "svg" });
    chart.setOption(buildOption() as any);
    return () => chart.dispose();
  }, []);
  return <div ref={ref} style={{ width: 1080, height: 1080, position: "absolute", left: 0, top: 0 }} />;
}
